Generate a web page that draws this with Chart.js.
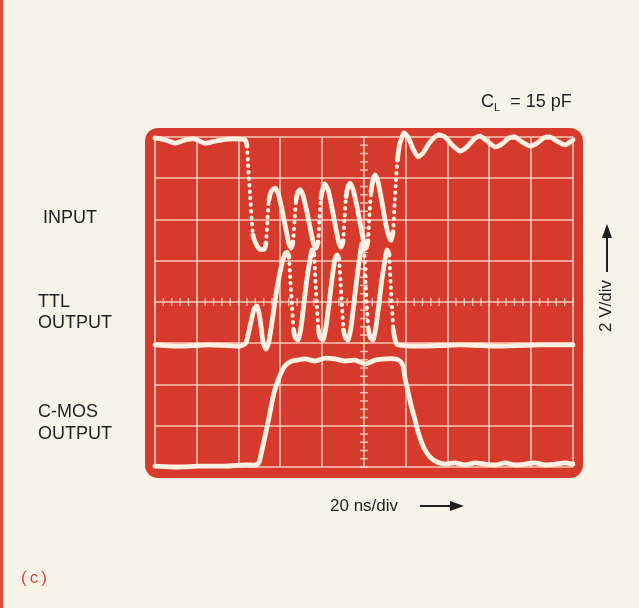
<!DOCTYPE html>
<html>
<head>
<meta charset="utf-8">
<script src="https://cdn.jsdelivr.net/npm/chart.js@4.4.1/dist/chart.umd.min.js"></script>
<style>
  html, body { margin: 0; padding: 0; background: #f8f3e7; }
  #wrap { position: relative; width: 639px; height: 608px; overflow: hidden; background: #f8f3e7; }
  canvas { position: absolute; left: 0; top: 0; }
  .lbl { position: absolute; font-family: "Liberation Sans", Arial, sans-serif; font-size: 18px; line-height: 18px; color: #1f1f1f; white-space: nowrap; }
  .strip { position: absolute; top: 0; width: 3px; height: 608px; background: #e0473a; }
</style>
</head>
<body>
<div id="wrap">
  <div class="strip" style="left:0"></div>
  <canvas id="c" width="639" height="608"></canvas>
  <div class="lbl" style="left:43px; top:208px;">INPUT</div>
  <div class="lbl" style="left:38px; top:292px;">TTL</div>
  <div class="lbl" style="left:38px; top:313px;">OUTPUT</div>
  <div class="lbl" style="left:38px; top:402px;">C-MOS</div>
  <div class="lbl" style="left:38px; top:424px;">OUTPUT</div>
  <div class="lbl" style="left:481px; top:92px; font-size:18px;">C<span style="font-size:11px; position:relative; top:4px;">L</span>&nbsp;&nbsp;=&nbsp;15 pF</div>
  <div class="lbl" style="left:330px; top:497px; font-size:17px;">20 ns/div</div>
  <svg style="position:absolute; left:418px; top:498px;" width="50" height="16">
    <line x1="2" y1="8" x2="36" y2="8" stroke="#1e1e1e" stroke-width="2"/>
    <polygon points="32,3 46,8 32,13" fill="#1e1e1e"/>
  </svg>
  <div class="lbl" style="left:560px; top:277px; width:92px; font-size:17px; transform: rotate(-90deg); transform-origin: 46px 9px; text-align:left;">2 V/div</div>
  <svg style="position:absolute; left:599px; top:220px;" width="16" height="54">
    <line x1="8" y1="52" x2="8" y2="14" stroke="#1e1e1e" stroke-width="2"/>
    <polygon points="3,18 8,4 13,18" fill="#1e1e1e"/>
  </svg>
  <div class="lbl" style="left:21px; top:569px; font-size:17px; color:#d9453a; letter-spacing:3px;">(c)</div>
</div>
<script>
// Time axis: 20 ns/div, 10 divisions. Vertical: divisions (2 V/div), 8 divisions.
const timeTicks = [0, 20, 40, 60, 80, 100, 120, 140, 160, 180, 200];
const levelTicks = [0, 1, 2, 3, 4, 5, 6, 7, 8];

const inputTime = [0, 4.8, 9.6, 14.4, 19.1, 23.9, 28.7, 34.9, 40.7, 43.1, 44.0, 44.7, 45.5, 46.2, 46.9, 48.3, 50.2, 52.2,
  53.1, 53.8, 54.5, 55.7, 57.4, 58.9, 60.8, 62.7, 64.1, 65.1,
  66.0, 66.8, 67.5, 68.4, 69.4, 70.8, 72.7, 74.6, 76.1, 77.0,
  78.0, 78.7, 79.4, 80.4, 81.3, 82.8, 84.7, 86.6, 88.0, 89.0,
  90.0, 90.7, 91.4, 92.3, 93.3, 94.7, 96.7, 98.6, 100.0, 101.0,
  101.9, 102.6, 103.4, 104.3, 105.3, 106.7, 108.6, 110.5, 112.0, 112.9,
  113.9, 114.6, 115.3, 116.0, 117.0, 118.2, 119.1,
  121.1, 123.5, 125.8, 128.2, 131.6, 135.4, 138.8, 142.1, 145.9, 149.3, 152.6, 155.5, 158.9, 162.7,
  166.0, 169.4, 172.3, 175.6, 179.4, 182.8, 186.1, 189.0, 192.4, 196.2, 200];
const inputLevel = [7.98, 7.93, 7.85, 7.93, 7.95, 7.85, 7.90, 7.95, 7.95, 7.93, 7.78, 7.20, 6.59, 6.04, 5.62, 5.41, 5.28, 5.28,
  5.43, 5.99, 6.47, 6.69, 6.76, 6.64, 6.23, 5.75, 5.41, 5.31,
  5.45, 5.99, 6.47, 6.67, 6.72, 6.59, 6.18, 5.70, 5.38, 5.31,
  5.45, 6.01, 6.52, 6.76, 6.86, 6.72, 6.28, 5.77, 5.43, 5.33,
  5.48, 6.04, 6.55, 6.79, 6.88, 6.74, 6.30, 5.79, 5.43, 5.31,
  5.48, 6.11, 6.67, 6.96, 7.08, 6.91, 6.42, 5.87, 5.58, 5.50,
  5.70, 6.35, 6.96, 7.44, 7.81, 8.00, 8.10,
  8.00, 7.71, 7.52, 7.61, 7.88, 8.05, 8.00, 7.81, 7.66, 7.76, 7.95, 8.02, 7.90, 7.76,
  7.83, 7.98, 8.00, 7.88, 7.78, 7.85, 7.98, 8.00, 7.90, 7.81, 7.93];

const ttlTime = [0, 12.0, 26.3, 40.7, 43.5, 45.5, 47.4, 48.8, 50.2, 51.7, 53.1, 54.5, 56.0, 58.4, 60.8, 62.2, 63.2,
  64.1, 64.8, 65.6, 66.3, 67.2, 68.4, 69.9, 71.3, 72.7, 74.2, 75.1,
  76.1, 76.8, 77.5, 78.2, 79.2, 80.4, 81.8, 83.3, 84.7, 86.1, 87.1,
  88.0, 88.8, 89.5, 90.2, 91.2, 92.4, 93.8, 95.2, 96.7, 98.1, 99.0,
  100.0, 100.7, 101.4, 102.2, 103.1, 104.3, 105.7, 107.2, 108.6, 110.1, 111.0,
  112.0, 112.7, 113.4, 114.1, 115.1, 116.3, 126.8, 145.9, 165.1, 184.2, 200];
const ttlLevel = [2.96, 2.93, 2.96, 2.93, 3.01, 3.42, 3.83, 3.90, 3.61, 3.03, 2.86, 3.05, 3.52, 4.34, 4.95, 5.16, 5.21,
  5.09, 4.48, 3.88, 3.32, 3.13, 3.08, 3.39, 3.98, 4.56, 5.04, 5.26,
  5.14, 4.48, 3.88, 3.32, 3.13, 3.08, 3.39, 3.98, 4.56, 5.04, 5.14,
  5.04, 4.48, 3.88, 3.32, 3.13, 3.08, 3.39, 3.98, 4.61, 5.14, 5.41,
  5.28, 4.48, 3.88, 3.32, 3.13, 3.08, 3.39, 3.98, 4.56, 5.04, 5.26,
  5.14, 4.48, 3.88, 3.32, 3.05, 2.96, 2.93, 2.96, 2.93, 2.96, 2.96];

const cmosTime = [0, 9.6, 21.5, 33.5, 43.1, 48.3, 49.8, 51.2, 52.6, 54.1, 55.5, 56.9, 58.4, 60.3, 62.2, 64.6, 67.9,
  71.8, 76.6, 81.3, 86.1, 90.9, 95.7, 100.5, 105.3, 110.1, 114.8, 117.2, 118.7, 119.6, 121.1, 122.5, 124.4,
  126.3, 128.7, 131.6, 134.9, 138.8, 143.6, 148.3, 153.1, 157.9, 162.7, 167.5, 172.3, 177.0, 181.8, 186.6, 191.4, 196.2, 200];
const cmosLevel = [0.02, 0.00, 0.02, 0.02, 0.05, 0.05, 0.12, 0.41, 0.73, 1.09, 1.45, 1.79, 2.04, 2.28, 2.45, 2.55, 2.59,
  2.62, 2.57, 2.64, 2.62, 2.57, 2.59, 2.50, 2.59, 2.62, 2.62, 2.57, 2.45, 2.16, 1.82, 1.50, 1.14,
  0.78, 0.46, 0.24, 0.12, 0.07, 0.10, 0.05, 0.10, 0.07, 0.05, 0.10, 0.05, 0.07, 0.10, 0.05, 0.07, 0.10, 0.07];

const toPoints = (ts, vs) => ts.map((t, i) => ({ x: t, y: vs[i] }));

const TRACE = '#fff1e2';
const SCREEN = '#d63a2c';
const GRID = 'rgba(255, 214, 196, 0.9)';

// Fast edges on the scope photo show up as dotted traces: style by on-screen steepness.
const isFast = ctx => {
  const dx = Math.abs(ctx.p1.x - ctx.p0.x), dy = Math.abs(ctx.p1.y - ctx.p0.y);
  return dy / Math.max(dx, 0.01) > 9.5;
};
const segStyle = {
  borderDash: ctx => isFast(ctx) ? [0.5, 6] : undefined,
  borderWidth: ctx => isFast(ctx) ? 4 : undefined
};

const screenPlugin = {
  id: 'screen',
  beforeDatasetsDraw(chart) {
    const { ctx, scales: { x, y } } = chart;
    const x0 = x.getPixelForValue(0), x1 = x.getPixelForValue(200);
    const y0 = y.getPixelForValue(8), y1 = y.getPixelForValue(0);
    ctx.save();
    const L = x0 - 10, T = y0 - 9, R = x1 + 10, B = y1 + 11, r = 13;
    ctx.fillStyle = SCREEN;
    ctx.beginPath();
    ctx.moveTo(L + r, T);
    ctx.arcTo(R, T, R, B, r);
    ctx.arcTo(R, B, L, B, r);
    ctx.arcTo(L, B, L, T, r);
    ctx.arcTo(L, T, R, T, r);
    ctx.closePath();
    ctx.fill();
    ctx.strokeStyle = GRID;
    ctx.lineWidth = 1.6;
    timeTicks.forEach(t => {
      const px = Math.round(x.getPixelForValue(t));
      ctx.beginPath(); ctx.moveTo(px, y0); ctx.lineTo(px, y1); ctx.stroke();
    });
    levelTicks.forEach(v => {
      const py = Math.round(y.getPixelForValue(v));
      ctx.beginPath(); ctx.moveTo(x0, py); ctx.lineTo(x1, py); ctx.stroke();
    });
    const cx = x.getPixelForValue(100), cy = y.getPixelForValue(4);
    ctx.lineWidth = 1.4;
    for (let t = 0; t <= 200.001; t += 4) {
      const px = x.getPixelForValue(t);
      ctx.beginPath(); ctx.moveTo(px, cy - 4); ctx.lineTo(px, cy + 4); ctx.stroke();
    }
    for (let v = 0; v <= 8.001; v += 0.2) {
      const py = y.getPixelForValue(v);
      ctx.beginPath(); ctx.moveTo(cx - 4, py); ctx.lineTo(cx + 4, py); ctx.stroke();
    }
    ctx.restore();
  }
};

const ds = (label, pts) => ({
  label, data: pts, borderColor: TRACE, backgroundColor: TRACE,
  borderWidth: 4.8, pointRadius: 0, tension: 0.2, fill: false,
  borderCapStyle: 'round', borderJoinStyle: 'round', clip: false, segment: segStyle
});

new Chart(document.getElementById('c'), {
  type: 'line',
  data: {
    datasets: [
      ds('C-MOS OUTPUT', toPoints(cmosTime, cmosLevel)),
      ds('TTL OUTPUT', toPoints(ttlTime, ttlLevel)),
      ds('INPUT', toPoints(inputTime, inputLevel))
    ]
  },
  options: {
    responsive: false,
    animation: false,
    devicePixelRatio: 1,
    layout: { padding: { left: 155, right: 66, top: 137, bottom: 141 } },
    scales: {
      x: { type: 'linear', min: 0, max: 200, display: false },
      y: { type: 'linear', min: 0, max: 8, display: false }
    },
    plugins: { legend: { display: false }, tooltip: { enabled: false } }
  },
  plugins: [screenPlugin]
});
</script>
</body>
</html>
